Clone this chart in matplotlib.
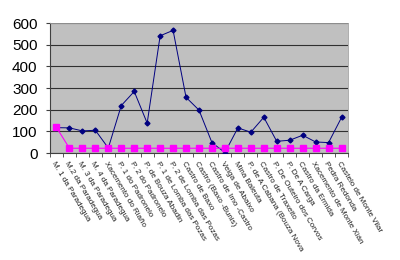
import matplotlib.pyplot as plt
import numpy as np

# categorias do eixo x
sitios = ['M. 1 da Paradegua', 'M.2 da Paradegua', 'M. 3 da Paradegua',
          'M. 4 da Paradegua', 'Xacemento do Riaño', 'P. 1 do Padronelo',
          'P. 2 do Padronelo', 'P. de Bouza Abadin', 'P. 1 de Lomba das Pozas',
          'P. 2 de Lomba das Pozas', 'Castro de Baxo', 'Castro (Baxo -Bunis)',
          'Castro de Imo -Castro', 'Veiga de Abaixo', 'Mina Baleuta',
          'P. de A Cabana (Bouza Nova', 'Castro de Traxeito',
          'P. De Outeiro dos Corvos', 'P. De A Carga', 'Castro da Ermida',
          'Xacemento de Monte Xián', 'Pedra Redonda', 'Castelo de Monte Vilar']

serie_azul = [117, 116, 102, 105, 23, 219, 284, 138, 541, 566, 257, 198,
              48, 2, 116, 96, 165, 54, 59, 82, 51, 48, 164]
serie_rosa = [118] + [22] * 22

fig = plt.figure(figsize=(4, 2.6), dpi=100)
ax = fig.add_axes([0.125, 0.4115, 0.745, 0.5])
ax.set_facecolor('#c0c0c0')

x = np.arange(len(sitios))
ax.plot(x, serie_azul, color='#000080', lw=0.7, marker='D', ms=2.5, zorder=3)
ax.plot(x, serie_rosa, color='#ff00ff', lw=0.8, marker='s', ms=4, zorder=4)

ax.set_xlim(-0.5, len(sitios) - 0.5)
ax.set_ylim(0, 600)
ax.set_yticks(range(0, 601, 100))
ax.yaxis.grid(True, color='#303030', lw=0.8)
ax.set_axisbelow(True)

ax.set_xticks(x)
ax.set_xticklabels(sitios, rotation=-59, ha='left', va='top',
                   rotation_mode='anchor', fontsize=5.8, family='Liberation Sans',
                   color='#202020')
ax.tick_params(axis='x', length=0, pad=5)
ax.set_xticks(np.arange(-0.5, len(sitios)), minor=True)
ax.tick_params(axis='x', which='minor', length=3, color='#404040')
ax.tick_params(axis='y', length=3, labelsize=11, color='#404040', pad=6)
for lab in ax.get_yticklabels():
    lab.set_family('Liberation Sans')

for s in ['top', 'right']:
    ax.spines[s].set_color('#a0a0a0')
    ax.spines[s].set_linewidth(0.6)
ax.spines['left'].set_color('#404040')
ax.spines['bottom'].set_color('#404040')

fig.savefig('out.png', dpi=100)
